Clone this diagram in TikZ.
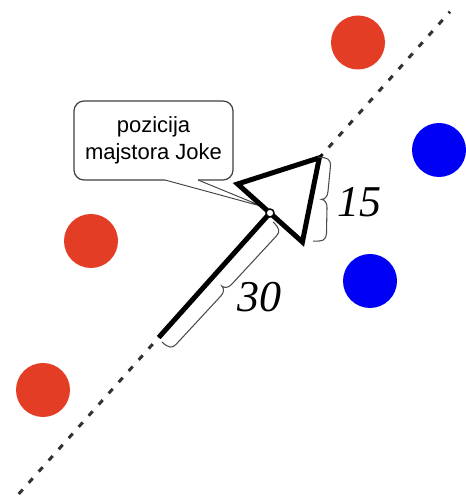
\documentclass[tikz,border=0pt]{standalone}
\usepackage{fontspec}
\setmainfont{Liberation Serif}
\newfontfamily\bubblefont{Liberation Sans}
\usetikzlibrary{positioning,calc}
\definecolor{ballred}{RGB}{228,61,38}
\definecolor{ballblue}{RGB}{0,0,245}
\definecolor{lineg}{RGB}{50,50,50}

\begin{document}
\begin{tikzpicture}[x = 0.75pt, y = 0.75pt,
  ball/.style = {circle, inner sep = 0pt, minimum size = 40.5pt},
  thickline/.style = {line width = 3.75pt},
  braceline/.style = {draw = black!70, line width = 0.8pt},
  numlabel/.style = {inner sep = 0pt, font = \fontsize{33}{33}\selectfont\itshape},
  bubble/.style = {draw = black!75, line width = 0.9pt, fill = white, rounded corners = 7.5pt,
    minimum width = 119.25pt, minimum height = 59.25pt, align = center,
    font = \bubblefont\fontsize{16.5}{20}\selectfont}]
\useasboundingbox (0,0) rectangle (466,502);
% dashed line
\coordinate (lo) at (18.7,8);
\coordinate (hi) at (450,490.3);
\draw[lineg, line width = 2.25pt, dash pattern = on 4.5pt off 6.75pt] (lo) -- (hi);
% balls
\node[ball, fill = ballred] (red1) at (358,459.5) {};
\node[ball, fill = ballred] (red2) at (91,261) {};
\node[ball, fill = ballred] (red3) at (43,112) {};
\node[ball, fill = ballblue] (blue1) at (439,352) {};
\node[ball, fill = ballblue] (blue2) at (370,221) {};
% arrow points
\coordinate (posc) at (270,289);
\coordinate (tail) at (158.7,164.5);
\coordinate (tip) at (319.3,344.2);
\coordinate (b1) at (237.6,318);
\coordinate (b2) at (302.4,260);
% callout
\node[bubble] (info) at (153.5,361.5) {pozicija\\majstora Joke};
\coordinate (pl) at (165,322);
\coordinate (pr) at (198,322);
\coordinate (ptip) at ($(posc)!0.22!(b1)$);
\fill[white] (pl) -- (ptip) -- (pr) -- ($(pr)+(0,2)$) -- ($(pl)+(0,2)$) -- cycle;
\draw[black!75, line width = 0.7pt] (pl) -- (ptip) -- (pr);
% arrow
\draw[thickline] (tail) -- (posc);
\filldraw[thickline, fill = white] (b1) -- (tip) -- (b2) -- cycle;
\node[circle, draw, fill = white, line width = 1.1pt, inner sep = 0pt, minimum size = 6pt] (pos) at (posc) {};
% braces
\begin{scope}[shift = {(273,280)}, rotate = 227.2]
\draw[braceline] (0,0) .. controls (0,9) and (2,12) .. (8,12) -- (74,12) .. controls (79,12) and (81.75,9) .. (81.75,6)
  .. controls (81.75,9) and (84.5,12) .. (89.5,12) -- (155.5,12) .. controls (161.5,12) and (163.5,9) .. (163.5,0);
\end{scope}
\begin{scope}[shift = {(318,345)}, rotate = 266.6]
\draw[braceline] (0,0) .. controls (0,10) and (2,13) .. (8,13) -- (34,12) .. controls (39,12) and (42.1,9) .. (42.1,6)
  .. controls (42.1,9) and (45.2,12) .. (50.2,12) -- (76.2,13) .. controls (82.2,13) and (84.2,10) .. (84.2,0);
\end{scope}
% lengths
\node[numlabel] (len30) at (259,205) {30};
\node[numlabel] (len15) at (359,300) {15};
\end{tikzpicture}
\end{document}
